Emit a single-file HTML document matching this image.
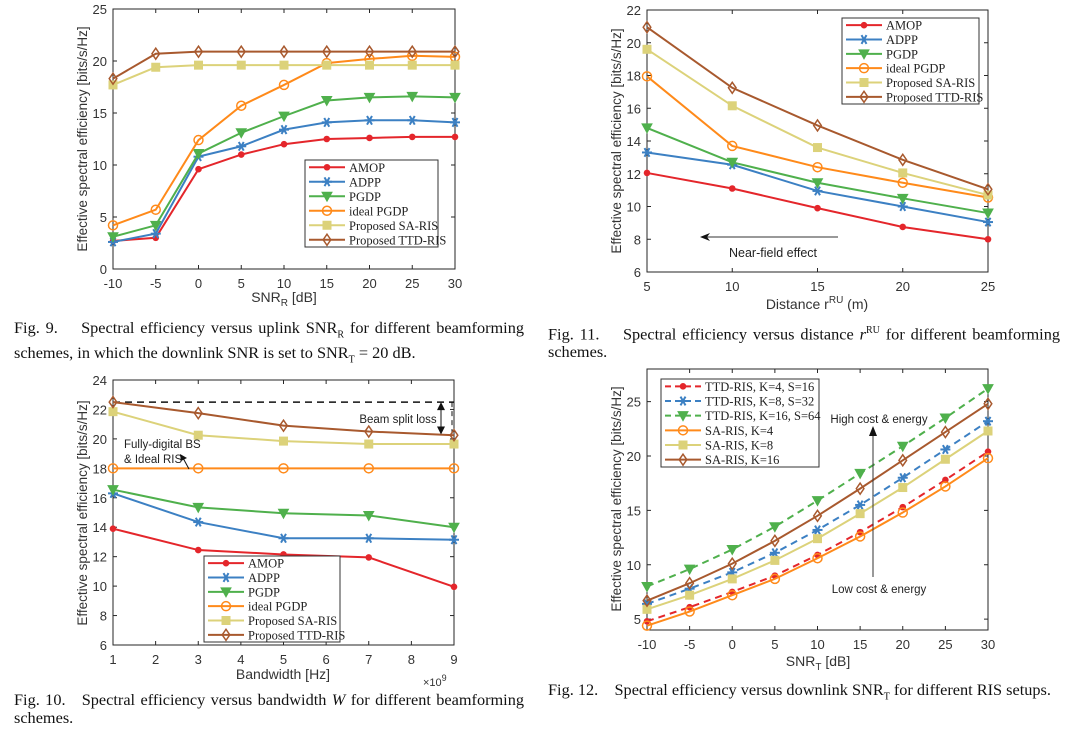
<!DOCTYPE html>
<html><head><meta charset="utf-8">
<style>
body{margin:0;background:#fff;width:1080px;height:735px;overflow:hidden;font-family:"Liberation Serif",serif;}
svg{position:absolute;left:0;top:0}
.cap{position:absolute;font-family:"Liberation Serif",serif;font-size:16.3px;color:#111;line-height:18px;text-align:justify}
</style></head><body>
<svg id="s" width="1080" height="735"></svg>
<div class="cap" style="left:14px;top:319px;width:510px">Fig. 9.&nbsp;&nbsp;&nbsp; Spectral efficiency versus uplink SNR<sub style="font-size:10px">R</sub> for different beamforming schemes, in which the downlink SNR is set to SNR<sub style="font-size:10px">T</sub> = 20 dB.</div>
<div class="cap" style="left:548px;top:322px;width:512px">Fig. 11.&nbsp;&nbsp;&nbsp; Spectral efficiency versus distance <i>r</i><sup style="font-size:10px">RU</sup> for different beamforming schemes.</div>
<div class="cap" style="left:14px;top:691px;width:510px">Fig. 10.&nbsp;&nbsp; Spectral efficiency versus bandwidth <i>W</i> for different beamforming schemes.</div>
<div class="cap" style="left:548px;top:681px;width:512px">Fig. 12.&nbsp;&nbsp;&nbsp; Spectral efficiency versus downlink SNR<sub style="font-size:10px">T</sub> for different RIS setups.</div>
<script>
// ---- data ----
const fig9X=[-10,-5,0,5,10,15,20,25,30];
const fig9AMOP=[2.7,3.0,9.6,11.0,12.0,12.5,12.6,12.7,12.7];
const fig9ADPP=[2.6,3.4,10.8,11.8,13.4,14.1,14.3,14.3,14.1];
const fig9PGDP=[3.1,4.2,11.1,13.1,14.7,16.2,16.5,16.6,16.5];
const fig9Ideal=[4.2,5.7,12.4,15.7,17.7,19.8,20.2,20.5,20.4];
const fig9SA=[17.7,19.4,19.6,19.6,19.6,19.6,19.6,19.6,19.6];
const fig9TTD=[18.3,20.7,20.9,20.9,20.9,20.9,20.9,20.9,20.9];
const fig9XTicks=[-10,-5,0,5,10,15,20,25,30];
const fig9YTicks=[0,5,10,15,20,25];

const fig11X=[5,10,15,20,25];
const fig11AMOP=[12.05,11.1,9.9,8.75,8.0];
const fig11ADPP=[13.3,12.55,10.95,10.0,9.05];
const fig11PGDP=[14.8,12.7,11.45,10.5,9.6];
const fig11Ideal=[17.95,13.7,12.4,11.45,10.55];
const fig11SA=[19.6,16.15,13.6,12.05,10.7];
const fig11TTD=[20.95,17.25,14.95,12.85,11.05];
const fig11XTicks=[5,10,15,20,25];
const fig11YTicks=[6,8,10,12,14,16,18,20,22];

const fig10X=[1,3,5,7,9];
const fig10AMOP=[13.9,12.45,12.15,11.95,9.95];
const fig10ADPP=[16.3,14.35,13.25,13.25,13.15];
const fig10PGDP=[16.55,15.35,14.95,14.8,14.0];
const fig10Ideal=[18,18,18,18,18];
const fig10SA=[21.85,20.25,19.85,19.65,19.65];
const fig10TTD=[22.5,21.75,20.9,20.5,20.25];
const fig10XTicks=[1,2,3,4,5,6,7,8,9];
const fig10YTicks=[6,8,10,12,14,16,18,20,22,24];

const fig12X=[-10,-5,0,5,10,15,20,25,30];
const fig12TTD4=[4.8,6.1,7.5,9.0,10.9,13.0,15.3,17.8,20.4];
const fig12TTD8=[6.4,7.8,9.3,11.1,13.2,15.5,18.0,20.6,23.2];
const fig12TTD16=[8.0,9.6,11.4,13.5,15.9,18.4,20.9,23.5,26.2];
const fig12SA4=[4.4,5.7,7.2,8.7,10.6,12.6,14.8,17.2,19.8];
const fig12SA8=[5.9,7.2,8.7,10.4,12.4,14.7,17.1,19.7,22.3];
const fig12SA16=[6.7,8.3,10.1,12.2,14.5,17.0,19.6,22.2,24.8];
const fig12XTicks=[-10,-5,0,5,10,15,20,25,30];
const fig12YTicks=[5,10,15,20,25];

const C={red:'#e4262b',blue:'#3c80c3',green:'#4fb04c',orange:'#ff8a1a',yellow:'#dcd27a',brown:'#a8592e'};
const NS='http://www.w3.org/2000/svg';
const S=document.getElementById('s');
function el(t,a,p){const e=document.createElementNS(NS,t);for(const k in a)e.setAttribute(k,a[k]);(p||S).appendChild(e);return e;}
function txt(x,y,s,o,p){const e=el('text',Object.assign({x:x,y:y,'font-family':'"Liberation Sans",sans-serif','font-size':13,fill:'#333'},o||{}),p);e.textContent=s;return e;}

function makeAxes(name,L,R,T,B,x0,x1,y0,y1,xt,yt){
  const g=el('g',{});
  
  
  const X=v=>L+(v-x0)/(x1-x0)*(R-L), Y=v=>B-(v-y0)/(y1-y0)*(B-T);
  el('rect',{x:L,y:T,width:R-L,height:B-T,fill:'#fff',stroke:'#262626','stroke-width':1},g);
  xt.forEach(v=>{const x=X(v);el('line',{x1:x,x2:x,y1:B,y2:B-4,stroke:'#262626'},g);el('line',{x1:x,x2:x,y1:T,y2:T+4,stroke:'#262626'},g);
    const t=txt(x,B+19,String(v),{'text-anchor':'middle'},g);});
  yt.forEach(v=>{const y=Y(v);el('line',{x1:L,x2:L+4,y1:y,y2:y,stroke:'#262626'},g);el('line',{x1:R,x2:R-4,y1:y,y2:y,stroke:'#262626'},g);
    const t=txt(L-6,y+5,String(v),{'text-anchor':'end'},g);});
  return {X,Y,g};
}
function marker(g,type,x,y,c){
  if(type==='dot')el('circle',{cx:x,cy:y,r:3.3,fill:c},g);
  else if(type==='star'){for(let a=0;a<180;a+=60){const r=a*Math.PI/180;el('line',{x1:x-5*Math.cos(r),y1:y-5*Math.sin(r),x2:x+5*Math.cos(r),y2:y+5*Math.sin(r),stroke:c,'stroke-width':2},g);}}
  else if(type==='tri')el('polygon',{points:`${x-5},${y-4} ${x+5},${y-4} ${x},${y+5}`,fill:c,stroke:c,'stroke-width':1},g);
  else if(type==='circ')el('circle',{cx:x,cy:y,r:4.5,fill:'none',stroke:c,'stroke-width':1.5},g);
  else if(type==='sq')el('rect',{x:x-4,y:y-4,width:8,height:8,fill:c,stroke:c},g);
  else if(type==='dia')el('polygon',{points:`${x},${y-5.5} ${x+3.8},${y} ${x},${y+5.5} ${x-3.8},${y}`,fill:'none',stroke:c,'stroke-width':1.5},g);
}
function series(ax,name,xs,ys,c,m,dash){
  const g=el('g',{});
  
  
  el('polyline',{points:xs.map((v,i)=>ax.X(v)+','+ax.Y(ys[i])).join(' '),fill:'none',stroke:c,'stroke-width':2,'stroke-dasharray':dash?'7,5':'none'},g);
  xs.forEach((v,i)=>marker(g,m,ax.X(v),ax.Y(ys[i]),c));
}
function legend(name,x,y,w,h,items){
  const g=el('g',{});
  
  
  el('rect',{x:x,y:y,width:w,height:h,fill:'#fff',stroke:'#333','stroke-width':1},g);
  const dy=h/items.length;
  items.forEach((it,i)=>{const cy=y+dy*(i+0.5);
    el('line',{x1:x+4,x2:x+40,y1:cy,y2:cy,stroke:it[1],'stroke-width':2,'stroke-dasharray':it[3]?'6,4':'none'},g);
    marker(g,it[2],x+22,cy,it[1]);
    const t=txt(x+44,cy+4.5,it[0],{'font-family':'"Liberation Serif",serif','font-size':12.5,fill:'#222'},g);
    });
}
const six=[['AMOP',C.red,'dot'],['ADPP',C.blue,'star'],['PGDP',C.green,'tri'],['ideal PGDP',C.orange,'circ'],['Proposed SA-RIS',C.yellow,'sq'],['Proposed TTD-RIS',C.brown,'dia']];
function ylab(x,y,s,name){const t=txt(x,y,s,{'text-anchor':'middle',transform:`rotate(-90 ${x} ${y})`,'font-size':13.5,fill:'#333'});}

// ---- Fig 9 ----
const a9=makeAxes('fig9-axes',113,455,9,269,-10,30,0,25,fig9XTicks,fig9YTicks);
series(a9,'fig9-amop',fig9X,fig9AMOP,C.red,'dot');
series(a9,'fig9-adpp',fig9X,fig9ADPP,C.blue,'star');
series(a9,'fig9-pgdp',fig9X,fig9PGDP,C.green,'tri');
series(a9,'fig9-ideal-pgdp',fig9X,fig9Ideal,C.orange,'circ');
series(a9,'fig9-sa-ris',fig9X,fig9SA,C.yellow,'sq');
series(a9,'fig9-ttd-ris',fig9X,fig9TTD,C.brown,'dia');
legend('fig9-legend',305,160,133,87,six);
ylab(87,139,'Effective spectral efficiency [bits/s/Hz]','fig9-y-axis-title');
{const t=txt(284,302,'',{'text-anchor':'middle','font-size':14});t.innerHTML='SNR<tspan font-size="10" dy="4">R</tspan><tspan dy="-4"> [dB]</tspan>';}

// ---- Fig 11 ----
const a11=makeAxes('fig11-axes',647,988,10,272,5,25,6,22,fig11XTicks,fig11YTicks);
series(a11,'fig11-amop',fig11X,fig11AMOP,C.red,'dot');
series(a11,'fig11-adpp',fig11X,fig11ADPP,C.blue,'star');
series(a11,'fig11-pgdp',fig11X,fig11PGDP,C.green,'tri');
series(a11,'fig11-ideal-pgdp',fig11X,fig11Ideal,C.orange,'circ');
series(a11,'fig11-sa-ris',fig11X,fig11SA,C.yellow,'sq');
series(a11,'fig11-ttd-ris',fig11X,fig11TTD,C.brown,'dia');
legend('fig11-legend',842,18,137,86,six);
ylab(621,141,'Effective spectral efficiency [bits/s/Hz]','fig11-y-axis-title');
{const t=txt(817,309,'',{'text-anchor':'middle','font-size':14});t.innerHTML='Distance r<tspan font-size="10" dy="-6">RU</tspan><tspan dy="6"> (m)</tspan>';}
el('line',{x1:838,y1:237,x2:706,y2:237,stroke:'#333','stroke-width':1});
el('polygon',{points:'700,237 710,233 707,237 710,241',fill:'#111'});
{const t=txt(773,257,'Near-field effect',{'text-anchor':'middle','font-size':12.5,fill:'#222'});}

// ---- Fig 10 ----
const a10=makeAxes('fig10-axes',113,454,380,645,1,9,6,24,fig10XTicks,fig10YTicks);
el('line',{x1:a10.X(1),x2:a10.X(9),y1:a10.Y(22.5),y2:a10.Y(22.5),stroke:'#111','stroke-width':1.5,'stroke-dasharray':'7,5'});
el('line',{x1:a10.X(9)-2,x2:a10.X(9)-2,y1:a10.Y(22.5),y2:a10.Y(20.3),stroke:'#111','stroke-width':1,'stroke-dasharray':'5,4'});
series(a10,'fig10-amop',fig10X,fig10AMOP,C.red,'dot');
series(a10,'fig10-adpp',fig10X,fig10ADPP,C.blue,'star');
series(a10,'fig10-pgdp',fig10X,fig10PGDP,C.green,'tri');
series(a10,'fig10-ideal-pgdp',fig10X,fig10Ideal,C.orange,'circ');
series(a10,'fig10-sa-ris',fig10X,fig10SA,C.yellow,'sq');
series(a10,'fig10-ttd-ris',fig10X,fig10TTD,C.brown,'dia');
el('line',{x1:441,x2:441,y1:a10.Y(22.5)+6,y2:a10.Y(20.3)-6,stroke:'#111','stroke-width':1});
el('polygon',{points:`441,${a10.Y(22.5)} 437,${a10.Y(22.5)+8} 445,${a10.Y(22.5)+8}`,fill:'#111'});
el('polygon',{points:`441,${a10.Y(20.3)} 437,${a10.Y(20.3)-8} 445,${a10.Y(20.3)-8}`,fill:'#111'});
{const t=txt(398,423,'Beam split loss',{'text-anchor':'middle','font-size':11.5,fill:'#222'});}
{const t=txt(124,448,'Fully-digital BS',{'font-size':11.5,fill:'#222'});}
{const t=txt(124,463,'& Ideal RIS',{'font-size':11.5,fill:'#222'});}
el('line',{x1:189,y1:469,x2:183,y2:458,stroke:'#111','stroke-width':1});
el('polygon',{points:'180,454 187,458 181,461',fill:'#111'});
legend('fig10-legend',204,556,136,86,six);
ylab(87,513,'Effective spectral efficiency [bits/s/Hz]','fig10-y-axis-title');
{const t=txt(283,679,'Bandwidth [Hz]',{'text-anchor':'middle','font-size':14});}
{const t=txt(423,686,'',{'font-size':11});t.innerHTML='×10<tspan font-size="9" dy="-5">9</tspan>';}

// ---- Fig 12 ----
const a12=makeAxes('fig12-axes',647,988,369,630,-10,30,4,28,fig12XTicks,fig12YTicks);
series(a12,'fig12-ttd-k4',fig12X,fig12TTD4,C.red,'dot',true);
series(a12,'fig12-ttd-k8',fig12X,fig12TTD8,C.blue,'star',true);
series(a12,'fig12-ttd-k16',fig12X,fig12TTD16,C.green,'tri',true);
series(a12,'fig12-sa-k4',fig12X,fig12SA4,C.orange,'circ');
series(a12,'fig12-sa-k8',fig12X,fig12SA8,C.yellow,'sq');
series(a12,'fig12-sa-k16',fig12X,fig12SA16,C.brown,'dia');
legend('fig12-legend',661,379,158,88,[['TTD-RIS, K=4, S=16',C.red,'dot',1],['TTD-RIS, K=8, S=32',C.blue,'star',1],['TTD-RIS, K=16, S=64',C.green,'tri',1],['SA-RIS, K=4',C.orange,'circ'],['SA-RIS, K=8',C.yellow,'sq'],['SA-RIS, K=16',C.brown,'dia']]);
el('line',{x1:873,y1:577,x2:873,y2:432,stroke:'#333','stroke-width':1});
el('polygon',{points:'873,426 869,436 877,436',fill:'#111'});
{const t=txt(879,423,'High cost & energy',{'text-anchor':'middle','font-size':11.5,fill:'#222'});}
{const t=txt(879,593,'Low cost & energy',{'text-anchor':'middle','font-size':11.5,fill:'#222'});}
ylab(621,499,'Effective spectral efficiency [bits/s/Hz]','fig12-y-axis-title');
{const t=txt(818,666,'',{'text-anchor':'middle','font-size':14});t.innerHTML='SNR<tspan font-size="10" dy="4">T</tspan><tspan dy="-4"> [dB]</tspan>';}
</script>
</body></html>
